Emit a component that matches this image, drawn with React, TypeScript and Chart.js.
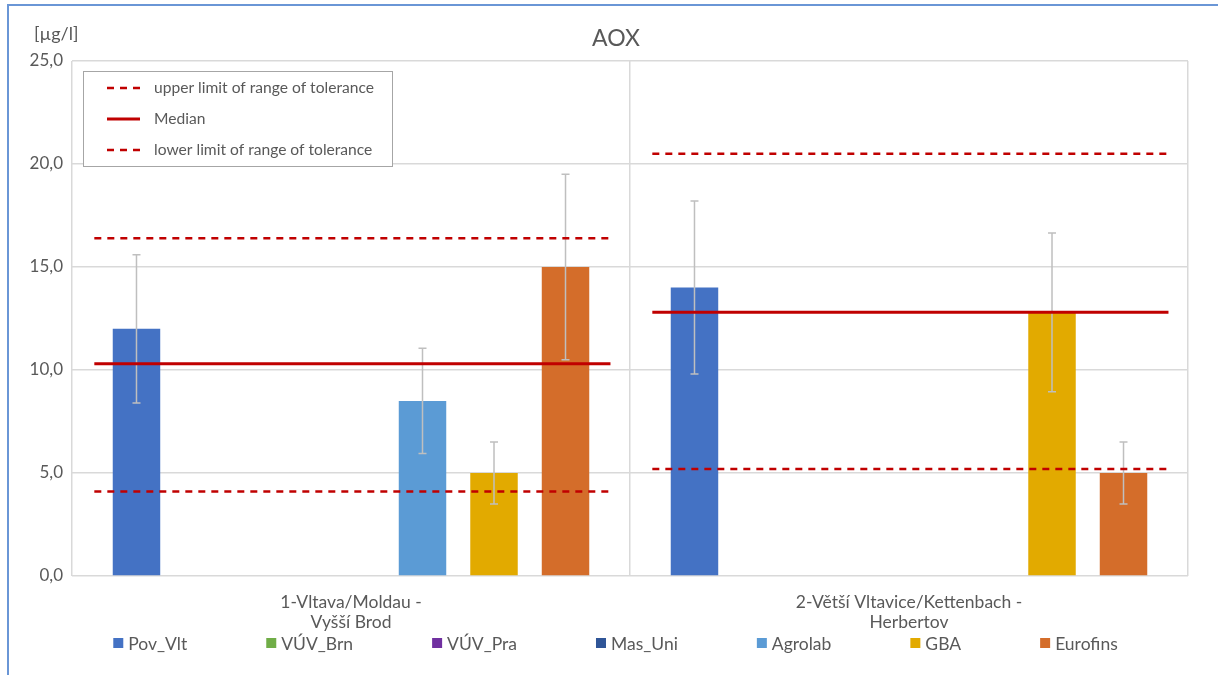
import React, { useEffect, useRef } from 'react';
import { Chart, registerables } from 'chart.js';

Chart.register(...registerables);

// ---------- data ----------
const categories = [
  ['1-Vltava/Moldau -', 'Vyšší Brod'],
  ['2-Větší Vltavice/Kettenbach -', 'Herbertov'],
];
const labNames = ['Pov_Vlt', 'VÚV_Brn', 'VÚV_Pra', 'Mas_Uni', 'Agrolab', 'GBA', 'Eurofins'];
const labColors = ['#4472C4', '#70AD47', '#7030A0', '#2F5597', '#5B9BD5', '#E2AA00', '#D46D2A'];

const povVlt = [12.0, 14.0];
const vuvBrn = [null, null];
const vuvPra = [null, null];
const masUni = [null, null];
const agrolab = [8.5, null];
const gba = [5.0, 12.8];
const eurofins = [15.0, 5.0];

const povVltErr = [3.6, 4.2];
const vuvBrnErr = [null, null];
const vuvPraErr = [null, null];
const masUniErr = [null, null];
const agrolabErr = [2.55, null];
const gbaErr = [1.5, 3.85];
const eurofinsErr = [4.5, 1.5];

const upperLimit = [16.4, 20.5];
const median = [10.3, 12.8];
const lowerLimit = [4.1, 5.2];

const yTicks = [0, 5, 10, 15, 20, 25];

const TEXT = '#595959';
const FONT = 'Lato, "Liberation Sans", sans-serif';

const labValues = [povVlt, vuvBrn, vuvPra, masUni, agrolab, gba, eurofins];
const labErrors = [povVltErr, vuvBrnErr, vuvPraErr, masUniErr, agrolabErr, gbaErr, eurofinsErr];

// line segment span within each category (fraction of category width)
const SPAN_START = 0.04;
const SPAN_END = 0.965;

// bars sit at the centre of each category slot on the shared numeric x axis
function barPoints(values: (number | null)[]) {
  return values.map((v, i) => ({ x: i + 0.5, y: v }));
}

function segments(values: number[]) {
  const pts: any[] = [];
  values.forEach((v, i) => {
    pts.push({ x: i + SPAN_START, y: v });
    pts.push({ x: i + SPAN_END, y: v });
    if (i < values.length - 1) pts.push({ x: i + 1, y: null });
  });
  return pts;
}

const errorBarPlugin = {
  id: 'errorBars',
  afterDatasetDraw(chart: any, args: any) {
    const ds = chart.data.datasets[args.index];
    const errs = ds.errors;
    if (!errs) return;
    const ctx = chart.ctx;
    const ys = chart.scales.y;
    ctx.save();
    ctx.strokeStyle = '#BFBFBF';
    ctx.lineWidth = 1.5;
    args.meta.data.forEach((bar: any, i: number) => {
      const v = ds.data[i] && ds.data[i].y;
      const e = errs[i];
      if (v == null || e == null) return;
      const x = bar.x;
      const yt = ys.getPixelForValue(v + e);
      const yb = ys.getPixelForValue(v - e);
      ctx.beginPath();
      ctx.moveTo(x, yt);
      ctx.lineTo(x, yb);
      ctx.moveTo(x - 4, yt);
      ctx.lineTo(x + 4, yt);
      ctx.moveTo(x - 4, yb);
      ctx.lineTo(x + 4, yb);
      ctx.stroke();
    });
    ctx.restore();
  },
};

const decorPlugin = {
  id: 'decor',
  afterDraw(chart: any) {
    const ctx = chart.ctx;
    const area = chart.chartArea;
    ctx.save();
    // title
    ctx.fillStyle = TEXT;
    ctx.textAlign = 'center';
    ctx.textBaseline = 'middle';
    ctx.font = `23px ${FONT}`;
    ctx.fillText('AOX', 616, 39);
    // unit
    ctx.font = `18px ${FONT}`;
    ctx.textAlign = 'left';
    ctx.fillText('[µg/l]', 34, 34);

    // inner legend box (line datasets)
    const bx = area.left + 11;
    const by = area.top + 10;
    const bw = 309;
    const bh = 95;
    ctx.fillStyle = '#FFFFFF';
    ctx.fillRect(bx, by, bw, bh);
    ctx.strokeStyle = '#A6A6A6';
    ctx.lineWidth = 1;
    ctx.strokeRect(bx + 0.5, by + 0.5, bw, bh);
    const lineSets = chart.data.datasets.filter((d: any) => d.type === 'line');
    lineSets.forEach((d: any, i: number) => {
      const yy = by + 17 + i * 31;
      ctx.strokeStyle = d.borderColor;
      ctx.lineWidth = d.borderWidth;
      ctx.setLineDash(d.borderDash || []);
      ctx.beginPath();
      ctx.moveTo(bx + 24, yy);
      ctx.lineTo(bx + 57, yy);
      ctx.stroke();
      ctx.setLineDash([]);
      ctx.fillStyle = TEXT;
      ctx.font = `15.6px ${FONT}`;
      ctx.textAlign = 'left';
      ctx.textBaseline = 'middle';
      ctx.fillText(d.label, bx + 71, yy);
    });

    // bottom legend (bar datasets)
    const barSets = chart.data.datasets.filter((d: any) => d.type !== 'line');
    ctx.font = `17.5px ${FONT}`;
    const box = 10;
    const gapText = 5;
    const gapItem = 79;
    const widths = barSets.map((d: any) => box + gapText + ctx.measureText(d.label).width);
    const total = widths.reduce((a: number, b: number) => a + b, 0) + gapItem * (barSets.length - 1);
    let x = 615.5 - total / 2;
    const ly = 643;
    barSets.forEach((d: any, i: number) => {
      ctx.fillStyle = d.backgroundColor;
      ctx.fillRect(x, ly - box / 2, box, box);
      ctx.fillStyle = TEXT;
      ctx.textAlign = 'left';
      ctx.textBaseline = 'middle';
      ctx.fillText(d.label, x + box + gapText, ly + 1);
      x += widths[i] + gapItem;
    });
    ctx.restore();
  },
};

function ChartView() {
  const ref = useRef<HTMLCanvasElement | null>(null);
  useEffect(() => {
    if (!ref.current) return;
    const barDatasets = labNames.map((name, i) => ({
      type: 'bar' as const,
      label: name,
      data: barPoints(labValues[i]),
      errors: labErrors[i],
      backgroundColor: labColors[i],
      borderWidth: 0,
      categoryPercentage: 0.897,
      barPercentage: 0.664,
      xAxisID: 'x',
      order: 2,
    }));
    const lineStyle = (label: string, values: number[], dashed: boolean) => ({
      type: 'line' as const,
      label,
      data: segments(values),
      xAxisID: 'x',
      borderColor: '#C00000',
      borderWidth: dashed ? 2.5 : 3,
      borderDash: dashed ? [7, 6] : [],
      pointRadius: 0,
      fill: false,
      spanGaps: false,
      order: 1,
    });
    const chart = new Chart(ref.current, {
      data: {
        labels: categories,
        datasets: [
          ...barDatasets,
          lineStyle('upper limit of range of tolerance', upperLimit, true),
          lineStyle('Median', median, false),
          lineStyle('lower limit of range of tolerance', lowerLimit, true),
        ] as any,
      },
      options: {
        responsive: false,
        animation: false,
        devicePixelRatio: 1,
        layout: { padding: { left: 0, right: 30, top: 61, bottom: 0 } },
        plugins: {
          legend: { display: false },
          tooltip: { enabled: false },
          title: { display: false },
        },
        scales: {
          x: {
            type: 'linear',
            position: 'bottom',
            weight: 2,
            min: 0,
            max: categories.length,
            offset: false,
            afterBuildTicks: (s: any) => {
              s.ticks = categories.map((_, i) => ({ value: i })).concat([{ value: categories.length }]);
            },
            grid: { offset: false, color: '#D9D9D9', lineWidth: 1.5, drawTicks: false },
            border: { display: false },
            ticks: { display: false },
            afterFit: (s: any) => {
              s.height = 0;
            },
          },
          xl: {
            type: 'category',
            position: 'bottom',
            weight: 1,
            offset: true,
            grid: { display: false, drawTicks: false },
            border: { display: false },
            ticks: {
              color: TEXT,
              font: { family: FONT, size: 17.5, lineHeight: 1.15 },
              padding: 16,
              maxRotation: 0,
              autoSkip: false,
            },
            afterFit: (s: any) => {
              s.height = 99;
            },
          },
          y: {
            min: 0,
            max: 25,
            afterBuildTicks: (s: any) => {
              s.ticks = yTicks.map((v) => ({ value: v }));
            },
            ticks: {
              color: TEXT,
              font: { family: FONT, size: 17 },
              padding: 9,
              callback: (v: any) => Number(v).toFixed(1).replace('.', ','),
            },
            grid: { color: '#D9D9D9', lineWidth: 1.5, drawTicks: false },
            border: { display: false },
            afterFit: (s: any) => {
              s.width = 72;
            },
          },
        },
      },
      plugins: [errorBarPlugin, decorPlugin],
    });
    return () => chart.destroy();
  }, []);

  return (
    <div style={{ position: 'fixed', left: 0, top: 0, width: 1218, height: 675, overflow: 'hidden', background: '#FFFFFF' }}>
      <div
        style={{
          position: 'absolute',
          left: 7,
          top: 4,
          width: 1400,
          height: 900,
          borderLeft: '2px solid #6A96D6',
          borderTop: '2px solid #6A96D6',
        }}
      />
      <canvas ref={ref} width={1218} height={675} style={{ position: 'absolute', left: 0, top: 0 }} />
    </div>
  );
}

export default function App() {
  return <ChartView />;
}
